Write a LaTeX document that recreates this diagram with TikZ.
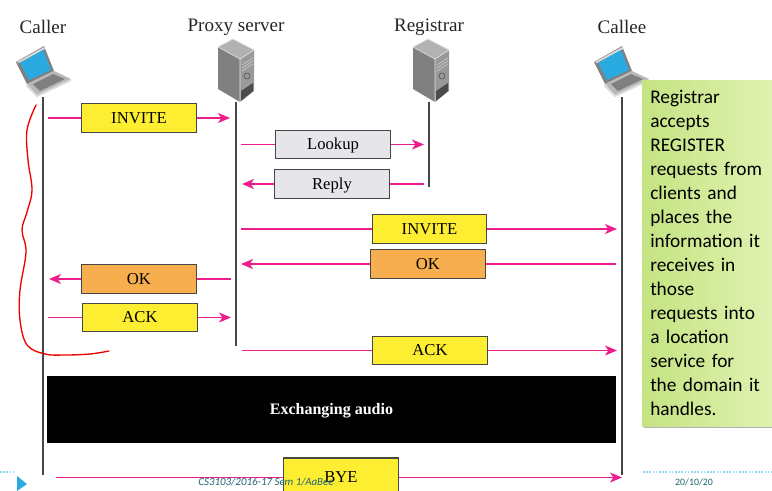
\documentclass[tikz,border=0pt]{standalone}
\usepackage{fontspec}
\setmainfont{Liberation Serif}
\newfontfamily\callfont{Carlito}
\newfontfamily\footfont{Carlito}
\usetikzlibrary{arrows.meta,shadings}
\definecolor{msgpink}{HTML}{EC1E8C}
\definecolor{boxyellow}{HTML}{FDEE32}
\definecolor{boxorange}{HTML}{F7AE4E}
\definecolor{boxgrey}{HTML}{E6E6EA}
\definecolor{calloutA}{HTML}{C4E382}
\definecolor{calloutB}{HTML}{E0F2B0}
\definecolor{footteal}{HTML}{1F6570}
\definecolor{scrblue}{HTML}{29ABE2}
\tikzset{
  x=0.75pt,y=-0.75pt,
  lifeline/.style={draw=black!72,line width=1.15pt},
  msg/.style={draw=msgpink,line width=1.15pt,-{Stealth[length=9pt,width=7.5pt,inset=2.5pt]}},
  msgplain/.style={draw=msgpink,line width=1.15pt},
  msgbox/.style={draw=black!72,line width=0.9pt,minimum height=21.5pt,inner sep=0pt,font=\fontsize{12.5}{14}\selectfont,text=black,text height=10.7pt,text depth=2.5pt},
  actor/.style={font=\fontsize{14.3}{16}\selectfont,text=black!85},
  laptop/.pic={
    \fill[black!50] (-2,16)--(26,0)--(36,25)--(9,38)--cycle;
    \fill[black!15] (-1,16)--(26,1)--(27,3)--(1,17)--cycle;
    \fill[scrblue] (2,17)--(25,4)--(33,24)--(11,34)--cycle;
    \fill[black!28] (9,38)--(36,25)--(53,33)--(19,49)--cycle;
    \fill[black!50] (15,38)--(35,28)--(47,33)--(22,45)--cycle;
    \fill[black!15] (9,38)--(19,49)--(53,33)--(53,35)--(19,51)--(8,40)--cycle;
  },
  serverpic/.pic={
    \fill[black!30] (0,8)--(15,0)--(36,11)--(22,20)--cycle;
    \fill[black!50] (0,8)--(22,20)--(22,63)--(0,50)--cycle;
    \fill[black!40] (22,20)--(36,11)--(36,52)--(22,63)--cycle;
    \draw[black!12,line width=0.5pt] (0,8)--(15,0)--(36,11)--(22,20)--cycle (22,20)--(22,63);
    \fill[black!70] (23,52)--(35,44)--(35,52)--(23,62)--cycle;
    \draw[black!22,line width=0.5pt] (24,26)--(35,19) (24,29)--(35,22) (24,32)--(35,25);
    \draw[black!70,line width=0.4pt] (29,37) circle[radius=3];
  }
}
\begin{document}
\begin{tikzpicture}
\useasboundingbox (0,0) rectangle (772,490);
\fill[white] (0,0) rectangle (772,490);
% footer dashes
\coordinate (fa) at (0,472); \coordinate (fb) at (15,472);
\coordinate (fc) at (643,472); \coordinate (fd) at (772,472);
\draw[cyan!45!white,dash pattern=on 1.2pt off 1.2pt,line width=0.9pt] (fa)--(fb) (fc)--(fd);
\fill[scrblue] (17,476)--(27,484)--(17,491)--cycle;
% actors
\node[actor] (caller) at (43,27) {Caller};
\node[actor] (proxy) at (236,27) {Proxy server};
\node[actor] (reg) at (429,27) {Registrar};
\node[actor] (callee) at (622,27) {Callee};
\pic at (18,46) {laptop};
\pic at (596,46) {laptop};
\pic at (218,39) {serverpic};
\pic at (413,39) {serverpic};
% lifelines
\coordinate (l1a) at (43,97); \coordinate (l1b) at (43,475);
\coordinate (l2a) at (236,102); \coordinate (l2b) at (236,346);
\coordinate (l3a) at (429,102); \coordinate (l3b) at (429,187);
\coordinate (l4a) at (622,97); \coordinate (l4b) at (622,475);
\draw[lifeline] (l1a)--(l1b);
\draw[lifeline] (l2a)--(l2b);
\draw[lifeline] (l3a)--(l3b);
\draw[lifeline] (l4a)--(l4b);
% messages
\node[msgbox,fill=boxyellow,minimum width=86pt] (m1) at (139,118) {INVITE};
\coordinate (m1a) at (48,118); \coordinate (m1b) at (230,118);
\draw[msgplain] (m1a)--(m1.west); \draw[msg] (m1.east)--(m1b);
\node[msgbox,fill=boxgrey,minimum width=86pt] (m2) at (333,144.500) {Lookup};
\coordinate (m2a) at (241,144.500); \coordinate (m2b) at (424,144.500);
\draw[msgplain] (m2a)--(m2.west); \draw[msg] (m2.east)--(m2b);
\node[msgbox,fill=boxgrey,minimum width=86pt] (m3) at (332,184) {Reply};
\coordinate (m3a) at (424,184); \coordinate (m3b) at (242,184);
\draw[msgplain] (m3a)--(m3.east); \draw[msg] (m3.west)--(m3b);
\node[msgbox,fill=boxyellow,minimum width=86pt] (m4) at (429.500,229) {INVITE};
\coordinate (m4a) at (241,229); \coordinate (m4b) at (617,229);
\draw[msgplain] (m4a)--(m4.west); \draw[msg] (m4.east)--(m4b);
\node[msgbox,fill=boxorange,minimum width=86pt] (m5) at (428,264) {OK};
\coordinate (m5a) at (616,264); \coordinate (m5b) at (241,264);
\draw[msgplain] (m5a)--(m5.east); \draw[msg] (m5.west)--(m5b);
\node[msgbox,fill=boxorange,minimum width=86pt] (m6) at (139,279) {OK};
\coordinate (m6a) at (231,279); \coordinate (m6b) at (49,279);
\draw[msgplain] (m6a)--(m6.east); \draw[msg] (m6.west)--(m6b);
\node[msgbox,fill=boxyellow,minimum width=86pt] (m7) at (140,317.500) {ACK};
\coordinate (m7a) at (48,317.500); \coordinate (m7b) at (231,317.500);
\draw[msgplain] (m7a)--(m7.west); \draw[msg] (m7.east)--(m7b);
\node[msgbox,fill=boxyellow,minimum width=86pt] (m8) at (430,350.500) {ACK};
\coordinate (m8a) at (242,350.500); \coordinate (m8b) at (617,350.500);
\draw[msgplain] (m8a)--(m8.west); \draw[msg] (m8.east)--(m8b);
% audio
\node[fill=black,text=white,font=\bfseries\fontsize{12}{14}\selectfont,minimum width=426.500pt,minimum height=50pt,inner sep=0pt,text height=10.7pt,text depth=2.5pt] (audio) at (331.500,409.500) {Exchanging audio};
% bye
\node[msgbox,fill=boxyellow,minimum width=86pt,minimum height=30pt] (m9) at (341,478) {};
\coordinate (m9a) at (56,477.500); \coordinate (m9b) at (622,477.500);
\draw[msgplain] (m9a)--(m9a-|m9.west); \draw[msg] (m9b-|m9.east)--(m9b);
\useasboundingbox (0,0) rectangle (772,490);
\node[font=\fontsize{12.5}{14}\selectfont] (byet) at (341,477.500) {BYE};
\node[font=\footfont\itshape\fontsize{8.2}{10}\selectfont,text=footteal] (foot) at (266,482) {CS3103/2016-17 Sem 1/AaBee};
\node[font=\footfont\fontsize{7.4}{10}\selectfont,text=footteal] (date) at (694,482) {20/10/20};
% freehand
\draw[red!95!black,line width=1pt,line cap=round] plot[smooth,tension=0.6] coordinates {(36,105) (27,130) (28,160) (32,190) (27,212) (22,230) (26,252) (20,290) (20,320) (27,345) (45,354) (65,355) (90,354) (109,351)};
% callout
\fill[black!30] (644,84) rectangle (772,428);
\shade[left color=calloutA,right color=calloutB] (642,80) rectangle (772,426);
\node[anchor=north west,align=left,inner sep=0pt,text width=120pt,font=\callfont\fontsize{14.5}{18}\selectfont,text=black] (note) at (650,89.500) {Registrar\\accepts\\REGISTER\\requests from\\clients and\\places the\\information it\\receives in\\those\\requests into\\a location\\service for\\the domain it\\handles.};
\end{tikzpicture}
\end{document}
